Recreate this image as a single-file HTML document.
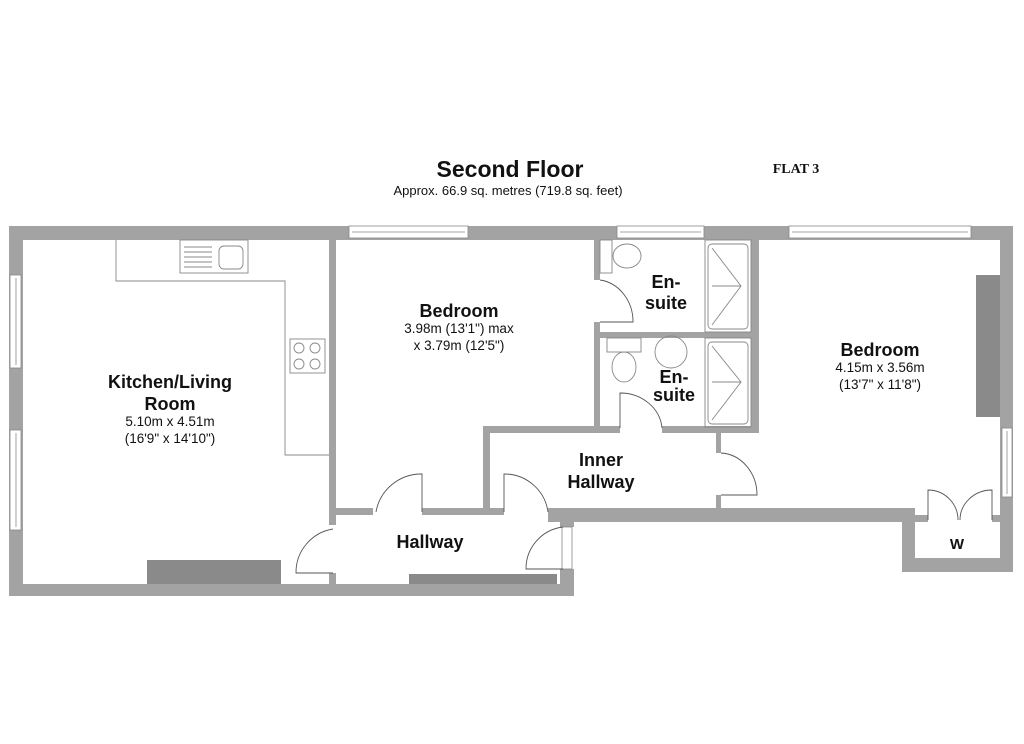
<!DOCTYPE html>
<html><head><meta charset="utf-8"><style>
html,body{margin:0;padding:0;background:#fff;}
svg{display:block;}
text{font-family:"Liberation Sans",Arial,sans-serif;fill:#111;}
.b{font-weight:bold;font-size:18px;}
.d{font-size:13.5px;}
</style></head><body>
<svg width="1024" height="744" viewBox="0 0 1024 744" xmlns="http://www.w3.org/2000/svg">
<rect width="1024" height="744" fill="#fff"/>
<g fill="#a3a3a3">
<rect x="9" y="226" width="1004" height="14"/>
<rect x="9" y="226" width="14" height="370"/>
<rect x="9" y="584" width="565" height="12"/>
<rect x="329" y="240" width="7" height="285"/>
<rect x="329" y="573" width="7" height="11"/>
<rect x="336" y="508" width="37" height="7"/>
<rect x="422" y="508" width="82" height="7"/>
<rect x="548" y="508" width="367" height="14"/>
<rect x="560" y="515" width="14" height="12"/>
<rect x="560" y="569" width="14" height="27"/>
<rect x="483" y="426" width="7" height="85"/>
<rect x="483" y="426" width="137" height="7"/>
<rect x="662" y="426" width="97" height="7"/>
<rect x="594" y="240" width="6" height="40"/>
<rect x="594" y="322" width="6" height="106"/>
<rect x="600" y="332" width="159" height="6"/>
<rect x="751" y="240" width="8" height="193"/>
<rect x="716" y="433" width="5" height="20"/>
<rect x="716" y="495" width="5" height="15"/>
<rect x="1000" y="226" width="13" height="346"/>
<rect x="902" y="508" width="13" height="64"/>
<rect x="902" y="558" width="111" height="14"/>
<rect x="915" y="515" width="13" height="7"/>
<rect x="992" y="515" width="8" height="7"/>
</g>
<g fill="#8a8a8a">
<rect x="147" y="560" width="134" height="24"/>
<rect x="409" y="574" width="148" height="10"/>
<rect x="976" y="275" width="24" height="142"/>
</g>
<!-- windows -->
<g fill="#fff" stroke="#888" stroke-width="0.8">
<rect x="349" y="226" width="119" height="12"/><line x1="352" y1="232" x2="465" y2="232"/>
<rect x="617" y="226" width="87" height="12"/><line x1="620" y1="232" x2="701" y2="232"/>
<rect x="789" y="226" width="182" height="12"/><line x1="792" y1="232" x2="968" y2="232"/>
<rect x="10" y="275" width="11" height="93"/><line x1="16" y1="278" x2="16" y2="365"/>
<rect x="10" y="430" width="11" height="100"/><line x1="16" y1="433" x2="16" y2="527"/>
<rect x="1002" y="428" width="10" height="69"/><line x1="1007" y1="431" x2="1007" y2="494"/>
<rect x="562" y="527" width="10" height="42"/>
</g>
<!-- kitchen fittings -->
<g fill="none" stroke="#888" stroke-width="0.9">
<polyline points="116,240 116,281 285,281 285,455 329,455"/>
<rect x="180" y="240" width="68" height="33"/>
<line x1="184" y1="247" x2="212" y2="247"/><line x1="184" y1="252" x2="212" y2="252"/><line x1="184" y1="257" x2="212" y2="257"/><line x1="184" y1="262" x2="212" y2="262"/><line x1="184" y1="267" x2="212" y2="267"/>
<rect x="219" y="246" width="24" height="23" rx="5"/>
<rect x="290" y="339" width="35" height="34"/>
<circle cx="299" cy="348" r="5"/><circle cx="315" cy="348" r="5"/><circle cx="299" cy="364" r="5"/><circle cx="315" cy="364" r="5"/>
<!-- showers -->
<rect x="705" y="240" width="46" height="92"/><rect x="708" y="244" width="40" height="85" rx="4"/>
<polyline points="712,248 741,286 712,325"/><line x1="712" y1="286" x2="741" y2="286"/>
<rect x="705" y="338" width="46" height="89"/><rect x="708" y="342" width="40" height="82" rx="4"/>
<polyline points="712,346 741,382 712,420"/><line x1="712" y1="382" x2="741" y2="382"/>
<!-- toilets / basin -->
<rect x="600" y="240" width="12" height="33"/>
<ellipse cx="627" cy="256" rx="14" ry="12"/>
<rect x="607" y="338" width="34" height="14"/>
<ellipse cx="624" cy="367" rx="12" ry="15"/>
<circle cx="671" cy="352" r="16"/>
</g>
<!-- doors -->
<g fill="none" stroke="#555" stroke-width="0.9">
<path d="M333,529 A44,44 0 0 0 296,573 L333,573"/>
<path d="M376,512 A46,46 0 0 1 422,474 L422,512"/>
<path d="M504,512 L504,474 A44,44 0 0 1 548,512"/>
<path d="M563,527 A42,42 0 0 0 526,569 L563,569"/>
<path d="M600,280 A38,42 0 0 1 633,322 L600,322"/>
<path d="M620,428 L620,393 A42,38 0 0 1 662,428"/>
<path d="M721,453 A38,42 0 0 1 757,495 L721,495"/>
<path d="M928,520 L928,490 A30,30 0 0 1 958,520"/>
<path d="M992,520 L992,490 A32,30 0 0 0 960,520"/>
</g>
<!-- text -->
<text x="510" y="177" text-anchor="middle" font-weight="bold" font-size="23">Second Floor</text>
<text x="508" y="195" text-anchor="middle" font-size="13">Approx. 66.9 sq. metres (719.8 sq. feet)</text>
<text x="796" y="173" text-anchor="middle" font-family="Liberation Serif" font-weight="bold" font-size="14" style="font-family:'Liberation Serif',serif">FLAT 3</text>
<text x="170" y="388" text-anchor="middle" class="b">Kitchen/Living</text>
<text x="170" y="410" text-anchor="middle" class="b">Room</text>
<text x="170" y="426" text-anchor="middle" class="d">5.10m x 4.51m</text>
<text x="170" y="443" text-anchor="middle" class="d">(16'9" x 14'10")</text>
<text x="459" y="317" text-anchor="middle" class="b">Bedroom</text>
<text x="459" y="333" text-anchor="middle" class="d">3.98m (13'1") max</text>
<text x="459" y="350" text-anchor="middle" class="d">x 3.79m (12'5")</text>
<text x="666" y="288" text-anchor="middle" class="b">En-</text>
<text x="666" y="309" text-anchor="middle" class="b">suite</text>
<text x="674" y="383" text-anchor="middle" class="b">En-</text>
<text x="674" y="401" text-anchor="middle" class="b">suite</text>
<text x="880" y="356" text-anchor="middle" class="b">Bedroom</text>
<text x="880" y="372" text-anchor="middle" class="d">4.15m x 3.56m</text>
<text x="880" y="389" text-anchor="middle" class="d">(13'7" x 11'8")</text>
<text x="601" y="466" text-anchor="middle" class="b">Inner</text>
<text x="601" y="488" text-anchor="middle" class="b">Hallway</text>
<text x="430" y="548" text-anchor="middle" class="b">Hallway</text>
<text x="957" y="549" text-anchor="middle" font-weight="bold" font-size="15">W</text>
</svg>
</body></html>
